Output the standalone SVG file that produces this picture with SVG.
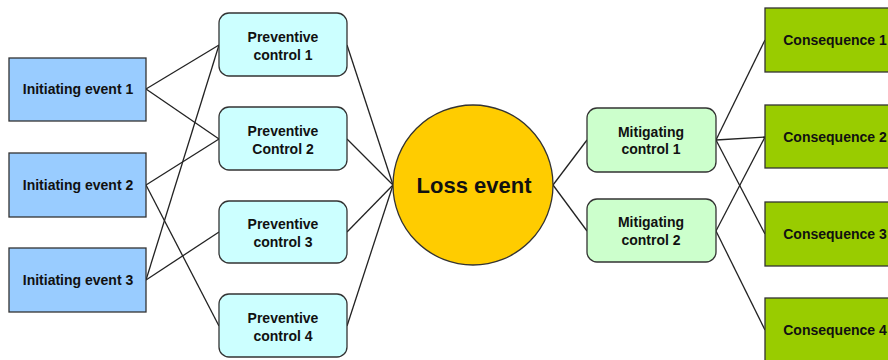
<svg xmlns="http://www.w3.org/2000/svg" width="888" height="360" viewBox="0 0 888 360">
<style>
text{font-family:"Liberation Sans",Arial,sans-serif;font-weight:bold;font-size:14px;fill:#111;text-anchor:middle}
.ie{fill:#99CCFF;stroke:#333;stroke-width:1.3}
.pc{fill:#CCFFFF;stroke:#333;stroke-width:1.3}
.mc{fill:#CCFFCC;stroke:#333;stroke-width:1.3}
.cq{fill:#99CC00;stroke:#333;stroke-width:1.3}
.le{fill:#FFCC00;stroke:#333;stroke-width:1.3}
#connectors line{stroke:#222;stroke-width:1.3}
</style>
<rect width="888" height="360" fill="#fff"/>
<g id="connectors">
<line x1="146" y1="89" x2="219" y2="45"/>
<line x1="146" y1="89" x2="219" y2="139"/>
<line x1="146" y1="185" x2="219" y2="139"/>
<line x1="146" y1="185" x2="219" y2="326"/>
<line x1="146" y1="280" x2="219" y2="45"/>
<line x1="146" y1="280" x2="219" y2="232"/>
<line x1="347" y1="45" x2="393" y2="185"/>
<line x1="347" y1="139" x2="393" y2="185"/>
<line x1="347" y1="232" x2="393" y2="185"/>
<line x1="347" y1="326" x2="393" y2="185"/>
<line x1="553" y1="185" x2="587" y2="140"/>
<line x1="553" y1="185" x2="587" y2="231"/>
<line x1="716" y1="140" x2="765" y2="40"/>
<line x1="716" y1="140" x2="765" y2="137"/>
<line x1="716" y1="140" x2="765" y2="234"/>
<line x1="716" y1="231" x2="765" y2="137"/>
<line x1="716" y1="231" x2="765" y2="330"/>
</g>
<g id="ie1"><rect class="ie" x="9" y="58" width="137" height="63"/><text x="78" y="94">Initiating event 1</text></g>
<g id="ie2"><rect class="ie" x="9" y="153" width="137" height="64"/><text x="78" y="190">Initiating event 2</text></g>
<g id="ie3"><rect class="ie" x="9" y="248" width="137" height="64"/><text x="78" y="285">Initiating event 3</text></g>
<g id="pc1"><rect class="pc" x="219" y="13" width="128" height="63" rx="10"/><text x="283" y="42">Preventive</text><text x="283" y="60">control 1</text></g>
<g id="pc2"><rect class="pc" x="219" y="107" width="128" height="63" rx="10"/><text x="283" y="136">Preventive</text><text x="283" y="154">Control 2</text></g>
<g id="pc3"><rect class="pc" x="219" y="201" width="128" height="62" rx="10"/><text x="283" y="229">Preventive</text><text x="283" y="247">control 3</text></g>
<g id="pc4"><rect class="pc" x="219" y="294" width="128" height="63" rx="10"/><text x="283" y="323">Preventive</text><text x="283" y="341">control 4</text></g>
<g id="loss"><circle class="le" cx="473" cy="185" r="80"/><text x="474" y="193" style="font-size:22px">Loss event</text></g>
<g id="mc1"><rect class="mc" x="587" y="108" width="129" height="64" rx="10"/><text x="651" y="137">Mitigating</text><text x="651" y="154">control 1</text></g>
<g id="mc2"><rect class="mc" x="587" y="199" width="129" height="63" rx="10"/><text x="651" y="227">Mitigating</text><text x="651" y="245">control 2</text></g>
<g id="c1"><rect class="cq" x="765" y="8" width="140" height="64"/><text x="835" y="45">Consequence 1</text></g>
<g id="c2"><rect class="cq" x="765" y="105" width="140" height="63"/><text x="835" y="142">Consequence 2</text></g>
<g id="c3"><rect class="cq" x="765" y="202" width="140" height="64"/><text x="835" y="239">Consequence 3</text></g>
<g id="c4"><rect class="cq" x="765" y="298" width="140" height="64"/><text x="835" y="335">Consequence 4</text></g>
</svg>
